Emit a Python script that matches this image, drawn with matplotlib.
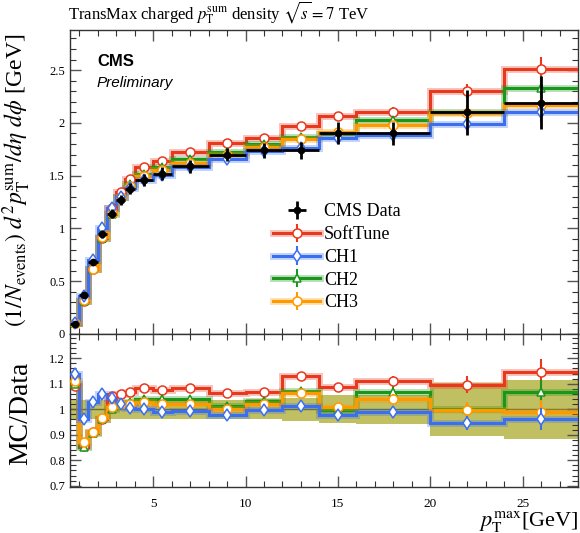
import numpy as np
import matplotlib
matplotlib.use('Agg')
import matplotlib.pyplot as plt
from matplotlib.ticker import MultipleLocator, FormatStrFormatter
from matplotlib.legend_handler import HandlerTuple
from matplotlib.lines import Line2D

plt.rcParams['font.family'] = ['Liberation Serif', 'DejaVu Serif']
plt.rcParams['mathtext.fontset'] = 'stix'

# binning in pT max [GeV]
edges = [0.5, 1, 1.5, 2, 2.5, 3, 3.5, 4, 5, 6, 8, 10, 12, 14, 16, 20, 24, 28]

# CMS data and its relative uncertainty
data = [0.095, 0.37, 0.68, 0.95, 1.14, 1.27, 1.375, 1.46, 1.52, 1.59,
        1.70, 1.74, 1.74, 1.90, 1.90, 2.10, 2.19]
data_rel_err = [0.038, 0.038, 0.038, 0.038, 0.038, 0.038, 0.038, 0.038, 0.038,
                0.038, 0.038, 0.040, 0.046, 0.055, 0.057, 0.103, 0.115]

# MC / Data ratios
ratio_softtune = [1.09, 0.855, 0.91, 0.96, 1.05, 1.06, 1.068, 1.083, 1.076, 1.082,
                  1.062, 1.068, 1.13, 1.088, 1.109, 1.096, 1.145]
ratio_ch1 = [1.14, 0.96, 1.03, 1.06, 1.045, 1.02, 1.005, 1.0, 0.99, 0.993,
             0.976, 0.997, 1.013, 0.976, 0.99, 0.947, 0.96]
ratio_ch2 = [1.10, 0.853, 0.905, 0.96, 1.0, 1.025, 1.03, 1.04, 1.04, 1.042,
             1.013, 1.033, 1.072, 0.997, 1.066, 1.0, 1.066]
ratio_ch3 = [1.11, 0.87, 0.91, 0.965, 1.008, 1.02, 1.02, 1.028, 1.02, 1.02,
             1.0, 1.02, 1.062, 1.008, 1.04, 0.997, 0.99]
mc_rel_err = [0.005, 0.005, 0.005, 0.005, 0.005, 0.005, 0.006, 0.006, 0.007, 0.007,
              0.008, 0.01, 0.012, 0.015, 0.02, 0.03, 0.045]

names = ['SoftTune', 'CH1', 'CH2', 'CH3']
ratios = [ratio_softtune, ratio_ch1, ratio_ch2, ratio_ch3]
colors = ['#e8381e', '#3b6ff0', '#1a961a', '#ff9900']
markers = ['o', 'd', '^', 'o']

edges = np.array(edges)
centers = 0.5 * (edges[1:] + edges[:-1])
halfw = 0.5 * (edges[1:] - edges[:-1])
data = np.array(data)
data_err = data * np.array(data_rel_err)

fig = plt.figure(figsize=(5.8, 5.33), dpi=100)
ax = fig.add_axes([0.1207, 0.3734, 0.876, 0.5703])
rx = fig.add_axes([0.1207, 0.0863, 0.876, 0.287], sharex=ax)

# ratio band
band = np.array(data_rel_err)
rx.stairs(1 + band, edges, baseline=1 - band, fill=True, color='#c0c062', zorder=1)
rx.axhline(1, color='#6b6b30', lw=1.0, zorder=1.5)

zs = {0: 3, 2: 4, 3: 5, 1: 6}
leg_items = {}
for i in range(4):
    r = np.array(ratios[i])
    mc = r * data
    c = colors[i]
    for a, vals, err in [(ax, mc, mc * np.array(mc_rel_err)), (rx, r, r * np.array(mc_rel_err))]:
        a.stairs(vals, edges, baseline=None, color=c, lw=5, alpha=0.3, zorder=zs[i])
        a.stairs(vals, edges, baseline=None, color=c, lw=2.2, zorder=zs[i])
        eb = a.errorbar(centers, vals, yerr=err, fmt=markers[i], mfc='white', mec=c,
                        ecolor=c, ms=6.5 if markers[i] != '^' else 5.5, mew=1.1,
                        elinewidth=1.5, capsize=0, zorder=zs[i] + 5)
        if a is ax:
            g = Line2D([], [], color=c, lw=5, alpha=0.3)
            l = Line2D([], [], color=c, lw=2.2)
            leg_items[i] = (g, l, eb)

deb = ax.errorbar(centers, data, yerr=data_err, xerr=halfw, fmt='o', color='black',
                  ms=4.5, elinewidth=2.0, capsize=0, zorder=20)

handles = [deb] + [leg_items[i] for i in range(4)]
labels = ['CMS Data'] + names
ax.legend(handles, labels, loc='upper left', bbox_to_anchor=(0.4, 0.43),
          frameon=False, fontsize=13, handlelength=2.6, handletextpad=0.2,
          labelspacing=0.32, borderaxespad=0, borderpad=0,
          handler_map={tuple: HandlerTuple(ndivide=1)})

ax.text(0.053, 0.895, 'CMS', transform=ax.transAxes, fontsize=12, fontweight='bold',
        family='Liberation Sans', va='center')
ax.text(0.053, 0.826, 'Preliminary', transform=ax.transAxes, fontsize=11,
        style='italic', family='Liberation Sans', va='center')

ax.set_xlim(0.5, 28)
ax.set_ylim(0, 2.88)
rx.set_ylim(0.695, 1.295)

for a in (ax, rx):
    a.xaxis.set_major_locator(MultipleLocator(5))
    a.xaxis.set_minor_locator(MultipleLocator(1))
    a.tick_params(which='both', direction='in', top=True, right=True, labelsize=9)
    a.tick_params(which='major', length=8, width=1.0, color='#555555')
    a.tick_params(which='minor', length=4, width=0.8, color='#333333')
    for s in a.spines.values():
        s.set_linewidth(1.0)
        s.set_color('#333333')

ax.yaxis.set_major_locator(MultipleLocator(0.5))
ax.yaxis.set_minor_locator(MultipleLocator(0.1))
ax.yaxis.set_major_formatter(FormatStrFormatter('%g'))
ax.tick_params(labelbottom=False)
rx.yaxis.set_major_locator(MultipleLocator(0.1))
rx.yaxis.set_minor_locator(MultipleLocator(0.02))
rx.yaxis.set_major_formatter(FormatStrFormatter('%g'))
rx.tick_params(axis='x', labelsize=9.5, pad=8)

fig.text(0.117, 0.977, r'TransMax charged $p_\mathrm{T}^\mathrm{sum}$ density $\sqrt{s} = 7$ TeV',
         fontsize=12, va='center', ha='left')
fig.text(0.03, 0.662,
         r'$\left(1/N_\mathrm{events}\right)\ d^2p_\mathrm{T}^\mathrm{sum}/d\eta\ d\phi$ [GeV]',
         rotation=90, fontsize=17, ha='center', va='center')
fig.text(0.036, 0.225, 'MC/Data', rotation=90, fontsize=20, ha='center', va='center')
fig.text(0.997, 0.022, r'$p_\mathrm{T}^\mathrm{max}$[GeV]', fontsize=16, ha='right', va='center')

fig.savefig('out.png', dpi=100)
